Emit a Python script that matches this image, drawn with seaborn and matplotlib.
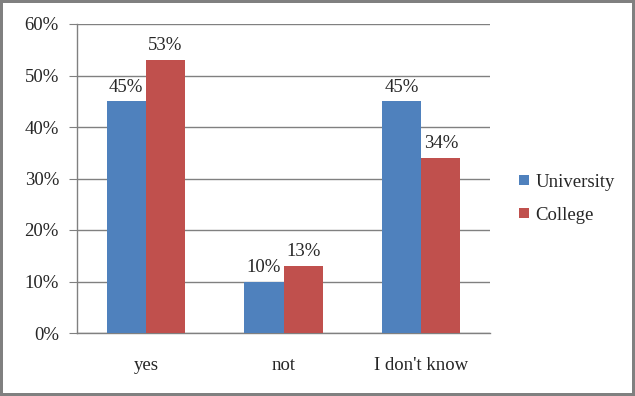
import seaborn as sns
import matplotlib.pyplot as plt
import pandas as pd

categories = ["yes", "not", "I don't know"]
university = [45, 10, 45]
college = [53, 13, 34]
series = ["University", "College"]

df = pd.DataFrame({
    "answer": categories * 2,
    "value": university + college,
    "group": [series[0]] * 3 + [series[1]] * 3,
})

sns.set_style("white")
plt.rcParams["font.family"] = ["Liberation Serif", "DejaVu Serif"]
fs = 13.5

fig = plt.figure(figsize=(6.35, 3.96), dpi=100, edgecolor="#808080", linewidth=3)
ax = fig.add_axes([77 / 635, 1 - 333 / 396, 413 / 635, 309 / 396])

sns.barplot(data=df, x="answer", y="value", hue="group", order=categories,
            hue_order=series, palette=["#4F81BD", "#C0504D"], width=0.57,
            saturation=1, linewidth=0, ax=ax, zorder=3)

for cont in ax.containers:
    ax.bar_label(cont, labels=[f"{v:.0f}%" for v in cont.datavalues],
                 padding=4, fontsize=fs)

ax.set_ylim(0, 60)
ax.set_xlim(-0.5, 2.5)
ax.set_yticks(range(0, 61, 10))
ax.set_yticklabels([f"{t}%" for t in range(0, 61, 10)], fontsize=fs)
ax.yaxis.grid(True, color="#808080", linewidth=1, zorder=0)
ax.set_xticks([0, 1, 2])
ax.set_xticklabels(categories, fontsize=fs)
ax.set_xticks([-0.5, 0.5, 1.5, 2.5], minor=True)
ax.tick_params(axis="x", which="major", length=0, pad=17)
ax.tick_params(axis="x", which="minor", length=5, color="#808080", direction="out")
ax.tick_params(axis="y", length=6, color="#808080", direction="out", pad=7, left=True)
ax.set_xlabel("")
ax.set_ylabel("")
for s in ["top", "right"]:
    ax.spines[s].set_visible(False)
for s in ["left", "bottom"]:
    ax.spines[s].set_color("#808080")
    ax.spines[s].set_linewidth(1)

h, l = ax.get_legend_handles_labels()
ax.legend(h, l, loc="center left", bbox_to_anchor=(1.03, 0.435), frameon=False,
          fontsize=fs, handlelength=0.5, handleheight=0.5, handletextpad=0.35,
          labelspacing=0.85)

fig.savefig("out.png", dpi=100)
